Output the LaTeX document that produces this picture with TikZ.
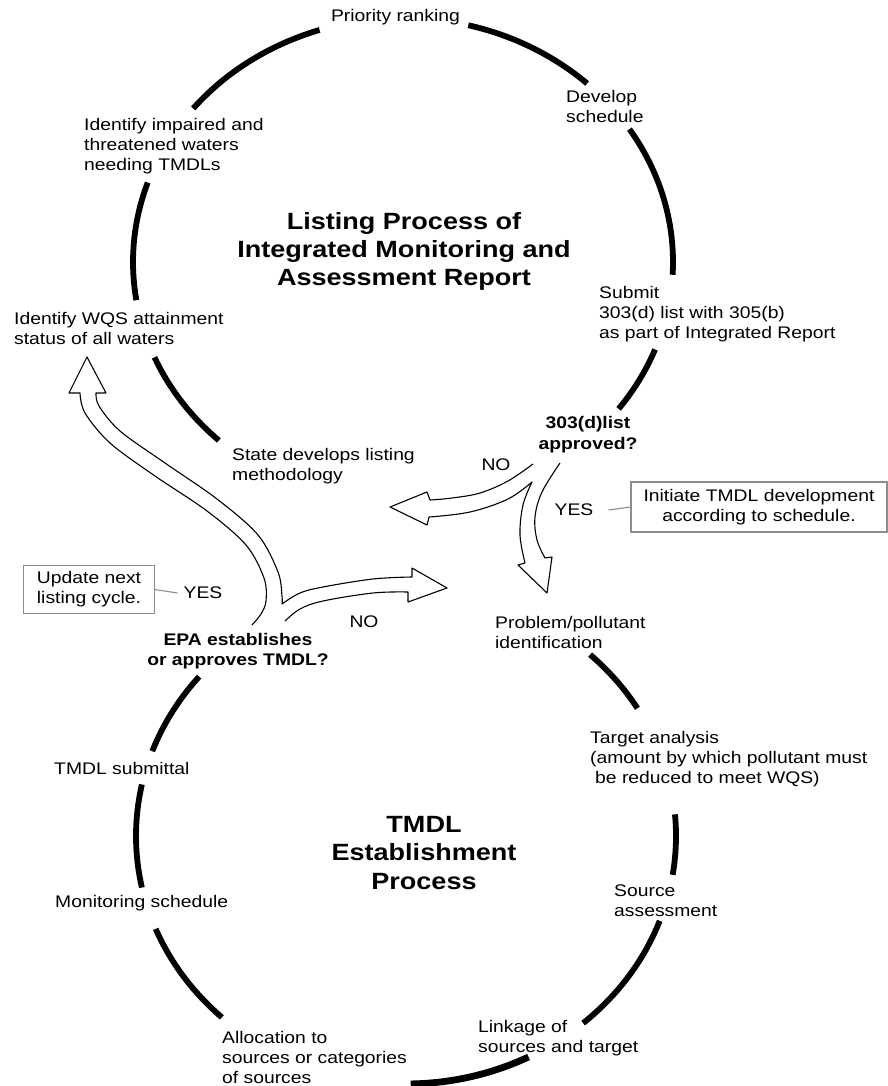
\documentclass[tikz,border=0pt]{standalone}
\usepackage{fontspec}
\setmainfont{Liberation Sans}[FakeStretch=1.15]
\begin{document}
\begin{tikzpicture}[x=1pt,y=-1pt,
  arcline/.style={line width=5.8pt, black},
  blk/.style={line width=1.1pt, black, line join=round},
  txt/.style={font=\fontsize{16.8}{20}\selectfont, inner sep=0pt, align=left, anchor=west},
  bt/.style={font=\bfseries\fontsize{16.8}{20.5}\selectfont, inner sep=0pt, align=center},
  ttl/.style={font=\bfseries\fontsize{23.5}{28.3}\selectfont, inner sep=0pt, align=center},
  gbox/.style={draw=black!45, line width=1.1pt},
  gline/.style={draw=black!45, line width=1.1pt}]
\useasboundingbox (0,0) rectangle (888,1086);
\fill[white] (0,0) rectangle (888,1086);

% ---- upper loop arcs (centre 403,262; radii 270,244)
\draw[arcline] plot[domain=219:252, samples=30] ({403+270*cos(\x)},{262+244*sin(\x)});
\draw[arcline] plot[domain=284:313, samples=30] ({403+270*cos(\x)},{262+244*sin(\x)});
\draw[arcline] plot[domain=327:363, samples=30] ({403+270*cos(\x)},{262+244*sin(\x)});
\draw[arcline] plot[domain=21:37, samples=20] ({403+270*cos(\x)},{262+244*sin(\x)});
\draw[arcline] plot[domain=133:157, samples=20] ({403+270*cos(\x)},{262+244*sin(\x)});
\draw[arcline] plot[domain=171:199, samples=20] ({403+270*cos(\x)},{262+244*sin(\x)});

% ---- lower loop arcs (centre 406,836; radii 270,248)
\draw[arcline] plot[domain=200:220, samples=20] ({406+270*cos(\x)},{836+248*sin(\x)});
\draw[arcline] plot[domain=168:192, samples=20] ({406+270*cos(\x)},{836+248*sin(\x)});
\draw[arcline] plot[domain=133:158, samples=20] ({406+270*cos(\x)},{836+248*sin(\x)});
\draw[arcline, line width=6.8pt] plot[domain=63:89, samples=20] ({406+270*cos(\x)},{836+248*sin(\x)});
\draw[arcline] plot[domain=20:49, samples=20] ({406+270*cos(\x)},{836+248*sin(\x)});
\draw[arcline] plot[domain=-5:9, samples=20] ({406+270*cos(\x)},{836+248*sin(\x)});
\draw[arcline] plot[domain=-47:-31, samples=20] ({406+270*cos(\x)},{836+248*sin(\x)});

% ---- block arrows at 303(d) decision
\draw[blk] plot[smooth, tension=0.6] coordinates {(533,464) (508,481) (480,493) (452,498) (430,500)}
  -- (427,492) -- (390,507) -- (427,525) -- (429,517)
  -- plot[smooth, tension=0.6] coordinates {(429,517) (470,512) (508,499) (532,482)}
  -- plot[smooth, tension=0.6] coordinates {(532,482) (523,505) (520,535) (525,563)}
  -- (518,565) -- (547,593) -- (552,557) -- (545,558)
  -- plot[smooth, tension=0.6] coordinates {(545,558) (537,540) (535,517) (542,492) (560,463)};

% ---- block arrows at EPA decision
\draw[blk] plot[smooth, tension=0.55] coordinates {(252,625) (261,614) (266,601) (264,578) (246,545) (207,511) (155,476) (110,443) (85,413) (80,393)}
  -- (69,393) -- (87,357) -- (106,393) -- (96,393)
  -- plot[smooth, tension=0.55] coordinates {(96,393) (99,406) (120,431) (165,463) (217,499) (258,535) (278,572) (282,596) (282,604)}
  -- plot[smooth, tension=0.6] coordinates {(282,604) (300,593) (323,587) (373,579) (412,577)}
  -- (412,568) -- (447,588) -- (408,602) -- (408,592)
  -- plot[smooth, tension=0.6] coordinates {(408,592) (373,593) (323,601) (300,609) (285,621)};

% ---- texts
\node[txt, anchor=center] (prio) at (395.5,17.5) {Priority ranking};
\node[txt] (dev) at (566,106.5) {Develop\\schedule};
\node[txt] (ident) at (84,146.5) {Identify impaired and\\threatened waters\\needing TMDLs};
\node[ttl] (title1) at (404,251.5) {Listing Process of\\Integrated Monitoring and\\Assessment Report};
\node[txt] (submit) at (599,314.5) {Submit\\303(d) list with 305(b)\\as part of Integrated Report};
\node[txt] (wqs) at (14,328.5) {Identify WQS attainment\\status of all waters};
\node[bt] (appr) at (588,434.5) {303(d)list\\approved?};
\node[txt] (state) at (232,466.5) {State develops listing\\methodology};
\node[txt, anchor=center] (noA) at (496,465) {NO};
\node[txt, anchor=center] (yesA) at (574,510) {YES};
\node[gbox, font=\fontsize{16.8}{20}\selectfont, align=center, inner sep=0pt,
      minimum width=256pt, minimum height=50pt] (boxA) at (759,507)
      {Initiate TMDL development\\according to schedule.};
\draw[gline] ([xshift=15pt]yesA.east) -- (boxA.west);
\node[gbox, font=\fontsize{16.8}{20}\selectfont, align=left, inner xsep=10pt, inner ysep=0pt,
      minimum width=131pt, minimum height=48pt, anchor=north west] (boxB) at (23,565)
      {Update next\\listing cycle.};
\node[txt, anchor=center] (yesB) at (203,593) {YES};
\draw[gline] (boxB.east) -- ([xshift=-6pt]yesB.west);
\node[txt, anchor=center] (noB) at (364,622) {NO};
\node[bt] (epa) at (238,651) {EPA establishes\\or approves TMDL?};
\node[txt] (prob) at (495,632) {Problem/pollutant\\identification};
\node[txt] (target) at (590,759) {Target analysis\\(amount by which pollutant must\\\hspace*{5pt}be reduced to meet WQS)};
\node[ttl] (title2) at (424,853) {TMDL\\Establishment\\Process};
\node[txt] (tsub) at (54,768) {TMDL submittal};
\node[txt] (src) at (614,900.5) {Source\\assessment};
\node[txt] (mon) at (55,903) {Monitoring schedule};
\node[txt] (link) at (478,1038.5) {Linkage of\\sources and target};
\node[txt] (alloc) at (222,1057) {Allocation to\\sources or categories\\of sources};
\end{tikzpicture}
\end{document}
